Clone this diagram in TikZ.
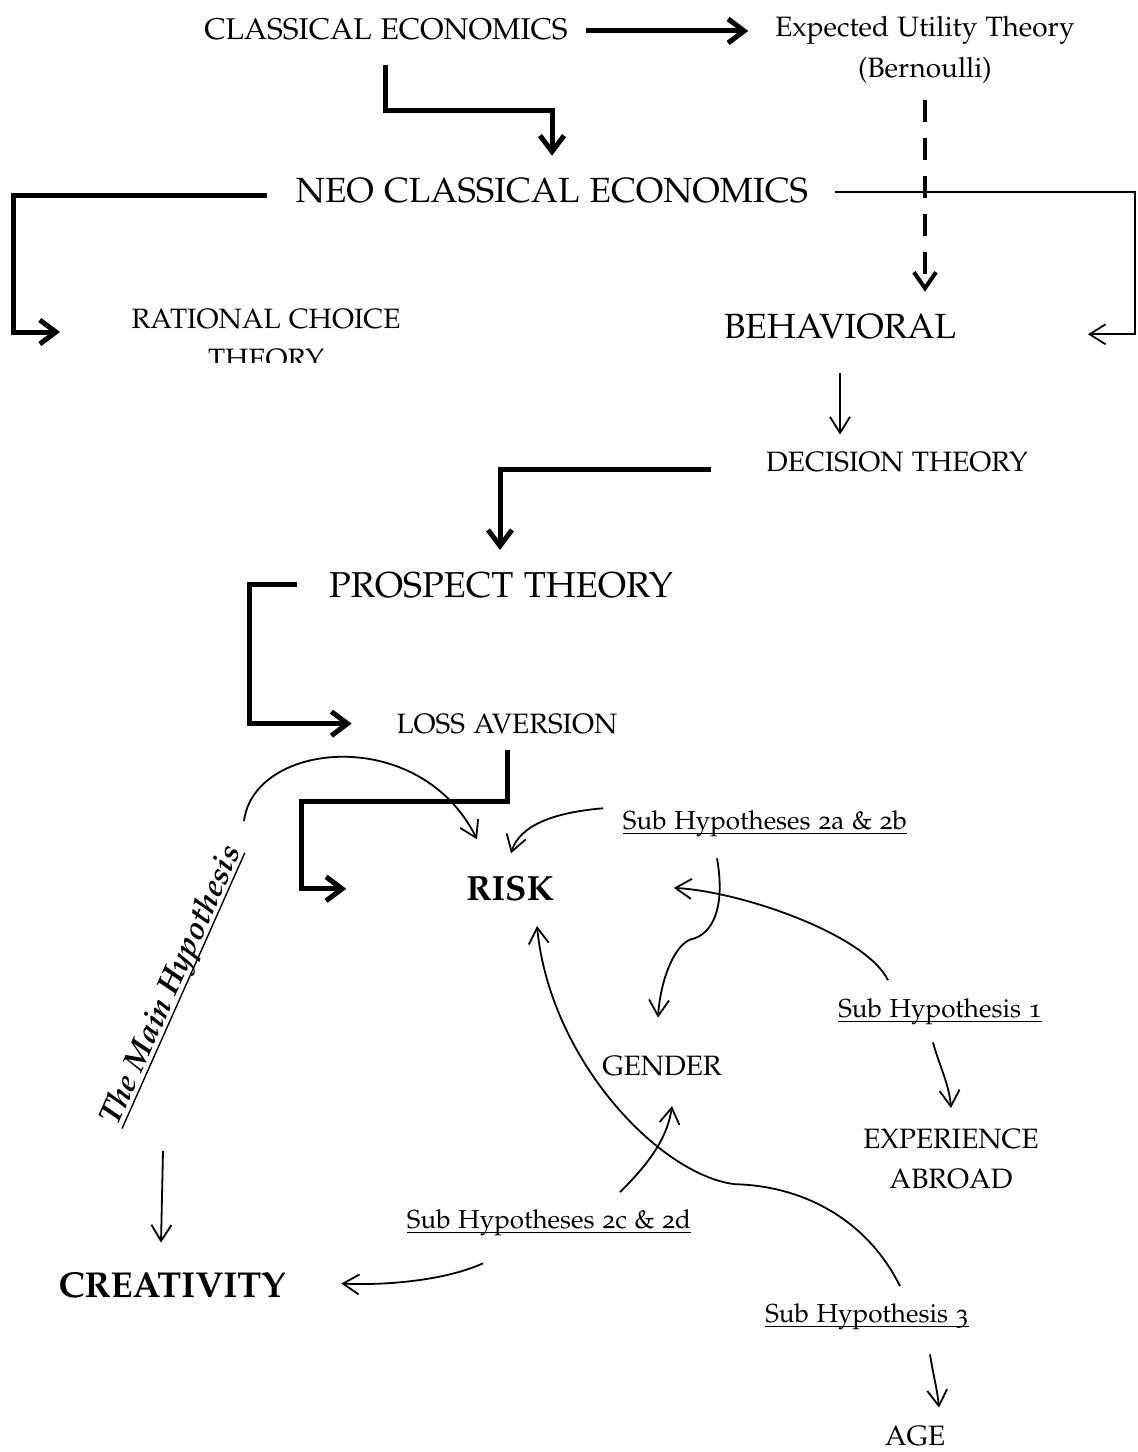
\documentclass[tikz,border=0pt]{standalone}
\usepackage[T1]{fontenc}
\usepackage[osf]{mathpazo}
\usepackage{graphicx}
\usetikzlibrary{arrows.meta,calc}
\newcommand\myul[1]{\setbox0\hbox{#1}\rlap{\rule[-2.6pt]{\wd0}{0.7pt}}\box0}
\newcommand\fsz[2]{\fontsize{#1}{#2}\selectfont}
\begin{document}
\begin{tikzpicture}[x=0.5pt,y=-0.5pt,
  lbl/.style={inner sep=0pt,outer sep=0pt,anchor=base},
  thk/.style={line width=2.5pt,line join=miter,-{Straight Barb[length=8pt,width=12pt]}},
  thn/.style={line width=0.9pt,-{Straight Barb[length=8pt,width=10pt]}},
  dsh/.style={line width=2pt,dash pattern=on 11pt off 8pt,-{Straight Barb[length=8pt,width=11pt]}}]
\useasboundingbox (0,0) rectangle (1137,1452);
% ---------- texts ----------
\node[inner sep=0pt] (mainhyp) at (173,986) {\rotatebox{66}{\usefont{T1}{ppl}{b}{it}\fsz{15.8}{19}\myul{The Main Hypothesis}}};
\node[lbl,font=\fsz{15}{18}] (classical) at (386,39) {CLASSICAL ECONOMICS};
\node[lbl,font=\fsz{14}{20.5}] (eut) at (925,36) {\begin{tabular}[t]{@{}c@{}}Expected Utility Theory\\(Bernoulli)\end{tabular}};
\node[lbl,font=\fsz{17.5}{21}] (neo) at (552,202) {NEO CLASSICAL ECONOMICS};
\begin{scope}
\clip (100,280) rectangle (430,362);
\node[lbl,font=\fsz{14}{20}] (rational) at (266,328) {\begin{tabular}[t]{@{}c@{}}RATIONAL CHOICE\\THEORY\end{tabular}};
\end{scope}
\node[lbl,font=\fsz{17.5}{21}] (behavioral) at (840,338) {BEHAVIORAL};
\node[lbl,font=\fsz{14}{17}] (decision) at (897,471) {DECISION THEORY};
\node[lbl,font=\fsz{18}{22}] (prospect) at (501,597) {PROSPECT THEORY};
\node[lbl,font=\fsz{14}{17}] (loss) at (507,733) {LOSS AVERSION};
\node[lbl,font=\fsz{17.5}{21}\bfseries] (risk) at (510,900) {RISK};
\node[lbl,font=\fsz{13}{16}] (sub2ab) at (765,829) {\myul{Sub Hypotheses 2a \& 2b}};
\node[lbl,font=\fsz{14}{17}] (gender) at (662,1075) {GENDER};
\node[lbl,font=\fsz{13}{16}] (sub1) at (940,1017) {\myul{Sub Hypothesis 1}};
\node[lbl,font=\fsz{14}{20}] (exper) at (951,1148) {\begin{tabular}[t]{@{}c@{}}EXPERIENCE\\ABROAD\end{tabular}};
\node[lbl,font=\fsz{13}{16}] (sub2cd) at (549,1228) {\myul{Sub Hypotheses 2c \& 2d}};
\node[lbl,font=\fsz{18}{22}\bfseries] (creativity) at (172,1297) {CREATIVITY};
\node[lbl,font=\fsz{13}{16}] (sub3) at (867,1322) {\myul{Sub Hypothesis 3}};
\node[lbl,font=\fsz{14}{17}] (age) at (915,1445) {AGE};
% ---------- connectors ----------
% classical -> expected utility
\draw[thk] ($(classical.east)+(18,2)$) -- ($(classical.east -| eut.west)+(-27,2)$);
% classical -> neo classical
\draw[thk] ($(classical.base)+(-1,26)$) |- ($(neo.north)+(0,-67)$) -- ($(neo.north)+(0,-22)$);
% expected utility -> behavioral (dashed)
\draw[dsh] ($(eut.base)+(0,64)$) -- ($(eut.base |- behavioral.north)+(0,-22)$);
% neo classical -> rational choice
\draw[thk] ($(neo.west)+(-29,5)$) -- ($(neo.west)+(-282,5)$) |- ($(rational.base)+(-206,4)$);
% neo classical -> behavioral
\draw[thn] ($(neo.east)+(27,2)$) -- ($(neo.east)+(327,2)$) |- ($(behavioral.east)+(132,8)$);
% behavioral -> decision theory
\draw[thn] ($(behavioral.base)+(0,35)$) -- ($(behavioral.base |- decision.north)+(0,-17)$);
% decision theory -> prospect theory
\draw[thk] ($(decision.west)+(-55,8)$) -| ($(prospect.north)+(-1,-22)$);
% prospect theory -> loss aversion
\draw[thk] ($(prospect.west)+(-32,0)$) -- ($(prospect.west)+(-80,0)$) |- ($(loss.west)+(-45,0)$);
% loss aversion -> risk
\draw[thk] ($(loss.base)+(0,17)$) -- ($(loss.base)+(0,68)$) -| ($(risk.west)+(-165,1)$) -- ($(risk.west)+(-120,1)$);
% main hypothesis -> risk
\draw[thn] ($(mainhyp.center)+(71,-165)$) .. controls +(10,-80) and +(-57,-115) .. ($(risk.north)+(-33,-36)$);
% sub hypotheses 2a & 2b -> risk
\draw[thn] ($(sub2ab.west)+(-20,-15)$) .. controls +(-47,4) and +(9,-29) .. ($(risk.north)+(1,-22)$);
% sub hypotheses 2a & 2b -> gender
\draw[thn] ($(sub2ab.south)+(-48,22)$) .. controls +(8,45) and +(25,-5) .. ($(gender.north)+(28,-116)$)
  .. controls +(-18,8) and +(2,-33) .. ($(gender.north)+(-4,-38)$);
% sub hypothesis 1 -> risk
\draw[thn] ($(sub1.north)+(-52,-18)$) .. controls +(-22,-45) and +(70,4) .. ($(risk.east)+(120,0)$);
% sub hypothesis 1 -> experience abroad
\draw[thn] ($(sub1.south)+(-7,18)$) .. controls +(5,20) and +(-2,-25) .. ($(exper.base)+(0,-40)$);
% main hypothesis -> creativity
\draw[thn] ($(mainhyp.center)+(-10,165)$) -- ($(creativity.north)+(-11,-29)$);
% sub hypotheses 2c & 2d -> gender
\draw[thn] ($(sub2cd.north)+(71,-17)$) .. controls +(25,-25) and +(-5,35) .. ($(gender.base)+(10,31)$);
% sub hypotheses 2c & 2d -> creativity
\draw[thn] ($(sub2cd.south)+(-66,28)$) .. controls +(-40,18) and +(40,2) .. ($(creativity.east)+(56,-1)$);
% sub hypothesis 3 -> risk
\draw[thn] ($(sub3.north)+(33,-17)$) .. controls +(-30,-61) and +(75,2) .. ($(sub3.north)+(-132,-119)$)
  .. controls +(-75,-9) and +(13,134) .. ($(risk.base)+(27,26)$);
% sub hypothesis 3 -> age
\draw[thn] ($(sub3.south)+(63,25)$) .. controls +(3,20) and +(-2,-20) .. ($(age.north)+(24,-18)$);
\end{tikzpicture}
\end{document}
